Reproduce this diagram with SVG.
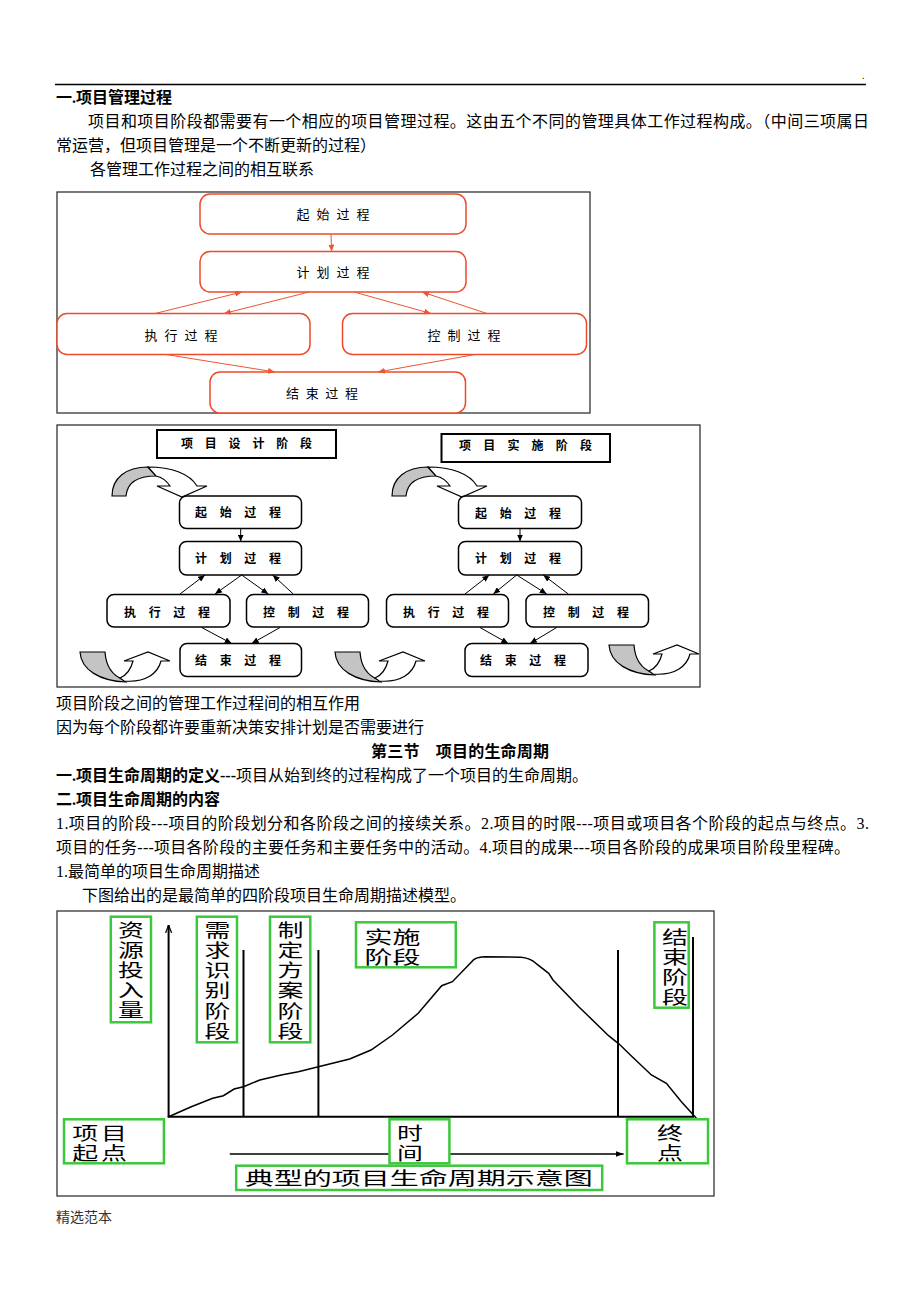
<svg xmlns="http://www.w3.org/2000/svg" width="920" height="1303" viewBox="0 0 920 1303">
<style>
.body{font-family:"Liberation Serif","Noto Sans CJK SC",serif;font-size:16px;fill:#000}
.b{font-weight:bold}
.n1{fill:#fff;stroke:#ee4b2b;stroke-width:1.5}
.t1{font-family:"Noto Sans CJK SC",sans-serif;font-size:13px;text-anchor:middle;fill:#000}
.c1{stroke:#ee5530;stroke-width:1;fill:none;marker-end:url(#ar)}
.n2{fill:#fff;stroke:#000;stroke-width:1.5}
.t2{font-family:"Noto Sans CJK SC",sans-serif;font-size:12px;font-weight:bold;text-anchor:middle;fill:#000}
.c2{stroke:#000;stroke-width:1;fill:none;marker-end:url(#ab)}
.gray{fill:#c4c4c4;stroke:#000;stroke-width:1.2}
.wh{fill:#fff;stroke:#000;stroke-width:1.2}
.g{fill:#fff;stroke:#3cc83c;stroke-width:2.5}
.gt{font-family:"Noto Sans CJK SC",sans-serif;font-size:18px;font-weight:normal;fill:#000}
.gc{text-anchor:middle}
.ln{stroke:#000;stroke-width:2;fill:none}
.frame{fill:none;stroke:#333;stroke-width:1.3}
</style>
<defs>
<marker id="ar" markerUnits="userSpaceOnUse" markerWidth="7" markerHeight="6" refX="7" refY="3" orient="auto"><path d="M0,0 L7,3 L0,6 Z" fill="#ee5530"/></marker>
<marker id="ab" markerUnits="userSpaceOnUse" markerWidth="7" markerHeight="6" refX="7" refY="3" orient="auto"><path d="M0,0 L7,3 L0,6 Z" fill="#000"/></marker>
<marker id="ax" markerUnits="userSpaceOnUse" markerWidth="8" markerHeight="8" refX="8" refY="4" orient="auto"><path d="M0,1 L8,4 L0,7" fill="none" stroke="#000" stroke-width="1.2"/></marker>
<marker id="at" markerUnits="userSpaceOnUse" markerWidth="8" markerHeight="6" refX="8" refY="3" orient="auto"><path d="M0,0 L8,3 L0,6 Z" fill="#000"/></marker>
</defs>
<rect width="920" height="1303" fill="#fff"/>

<!-- header text -->
<g id="text-top">
<text x="862" y="79" font-family="Liberation Serif" font-size="10">.</text>
<line x1="55" y1="84.5" x2="866" y2="84.5" stroke="#000" stroke-width="1.3"/>
<text class="body b" x="56" y="103">一.项目管理过程</text>
<text class="body" x="88" y="127" textLength="781" lengthAdjust="spacing">项目和项目阶段都需要有一个相应的项目管理过程。这由五个不同的管理具体工作过程构成。（中间三项属日</text>
<text class="body" x="56" y="151">常运营，但项目管理是一个不断更新的过程）</text>
<text class="body" x="90" y="175">各管理工作过程之间的相互联系</text>
</g>

<!-- diagram 1 -->
<rect x="57" y="192" width="533" height="221" class="frame"/>
<g id="d1-start"><rect class="n1" x="200" y="194" width="266" height="40" rx="10"/><text class="t1" x="333" y="219" textLength="73" lengthAdjust="spacing">起始过程</text></g>
<g id="d1-plan"><rect class="n1" x="200" y="251.5" width="266" height="40.5" rx="10"/><text class="t1" x="333" y="277" textLength="73" lengthAdjust="spacing">计划过程</text></g>
<g id="d1-exec"><rect class="n1" x="57" y="313.5" width="253" height="41" rx="10"/><text class="t1" x="181" y="340" textLength="73" lengthAdjust="spacing">执行过程</text></g>
<g id="d1-ctrl"><rect class="n1" x="342.5" y="313.5" width="244" height="41" rx="10"/><text class="t1" x="464" y="340" textLength="73" lengthAdjust="spacing">控制过程</text></g>
<g id="d1-end"><rect class="n1" x="210" y="372" width="255.5" height="41" rx="10"/><text class="t1" x="322" y="398" textLength="72" lengthAdjust="spacing">结束过程</text></g>
<g id="d1-connectors">
<line class="c1" x1="331" y1="234" x2="331.6" y2="251.5"/>
<line class="c1" x1="155" y1="313.5" x2="242" y2="292"/>
<line class="c1" x1="309" y1="292" x2="224" y2="313.5"/>
<line class="c1" x1="354" y1="292" x2="431" y2="313.5"/>
<line class="c1" x1="487" y1="313.5" x2="422" y2="292"/>
<line class="c1" x1="166" y1="354.5" x2="275" y2="372"/>
<line class="c1" x1="475" y1="354.5" x2="378" y2="372"/>
</g>

<!-- diagram 2 -->
<rect x="57" y="425" width="643" height="262" class="frame"/>
<g id="d2-stage1"><rect x="157" y="430" width="179" height="28" fill="#fff" stroke="#000" stroke-width="2"/><text class="t2" x="246.5" y="447.5" textLength="131" lengthAdjust="spacing">项目设计阶段</text></g>
<g id="d2-stage2"><rect x="441.5" y="434" width="168.5" height="28" fill="#fff" stroke="#000" stroke-width="2"/><text class="t2" x="525.5" y="450" textLength="133" lengthAdjust="spacing">项目实施阶段</text></g>

<g id="d2-decor">
<g id="loop-top-left">
<path class="gray" d="M112,496 C112,478 126,467 148,467 L156,476 C136,476 127,484 126,496 Z"/>
<path class="wh" d="M148,467 C172,467 190,474 197,486 L207,486 L182,497 L157,486 L170,486 C166,480 161,477 156,476 Z"/>
</g>
<g transform="translate(280,0)">
<path class="gray" d="M112,496 C112,478 126,467 148,467 L156,476 C136,476 127,484 126,496 Z"/>
<path class="wh" d="M148,467 C172,467 190,474 197,486 L207,486 L182,497 L157,486 L170,486 C166,480 161,477 156,476 Z"/>
</g>
<g id="loop-bottom-left">
<path class="gray" d="M80,652 L105,652 C106,667 113,676 124,680 L126,682 C100,681 81,670 80,652 Z"/>
<path class="wh" d="M124,681 C146,683 158,673 161,661 L170,661 L148,652 L124,661 L133,661 C131,669 127,675 120,678 Z"/>
</g>
<g transform="translate(255,0)">
<path class="gray" d="M80,652 L105,652 C106,667 113,676 124,680 L126,682 C100,681 81,670 80,652 Z"/>
<path class="wh" d="M124,681 C146,683 158,673 161,661 L170,661 L148,652 L124,661 L133,661 C131,669 127,675 120,678 Z"/>
</g>
<g transform="translate(529,-7)">
<path class="gray" d="M80,652 L105,652 C106,667 113,676 124,680 L126,682 C100,681 81,670 80,652 Z"/>
<path class="wh" d="M124,681 C146,683 158,673 161,661 L170,661 L148,652 L124,661 L133,661 C131,669 127,675 120,678 Z"/>
</g>
</g>

<g id="d2-l-start"><rect class="n2" x="179.5" y="496" width="122" height="32.5" rx="7"/><text class="t2" x="238" y="516.5" textLength="86" lengthAdjust="spacing">起始过程</text></g>
<g id="d2-l-plan"><rect class="n2" x="179.5" y="541.5" width="122" height="33.5" rx="7"/><text class="t2" x="238" y="562.5" textLength="86" lengthAdjust="spacing">计划过程</text></g>
<g id="d2-l-exec"><rect class="n2" x="107" y="594.5" width="123" height="32.5" rx="7"/><text class="t2" x="167" y="616.5" textLength="86" lengthAdjust="spacing">执行过程</text></g>
<g id="d2-l-ctrl"><rect class="n2" x="246.5" y="594.5" width="122" height="32.5" rx="7"/><text class="t2" x="306" y="616.5" textLength="86" lengthAdjust="spacing">控制过程</text></g>
<g id="d2-l-end"><rect class="n2" x="180" y="643.5" width="121.5" height="33" rx="7"/><text class="t2" x="238" y="664.5" textLength="86" lengthAdjust="spacing">结束过程</text></g>

<g id="d2-r-start"><rect class="n2" x="458.5" y="496" width="123" height="32.5" rx="7"/><text class="t2" x="518" y="517.5" textLength="86" lengthAdjust="spacing">起始过程</text></g>
<g id="d2-r-plan"><rect class="n2" x="458.5" y="541.5" width="123" height="33.5" rx="7"/><text class="t2" x="518" y="562.5" textLength="86" lengthAdjust="spacing">计划过程</text></g>
<g id="d2-r-exec"><rect class="n2" x="386.5" y="594.5" width="122" height="32.5" rx="7"/><text class="t2" x="446" y="616.5" textLength="86" lengthAdjust="spacing">执行过程</text></g>
<g id="d2-r-ctrl"><rect class="n2" x="526" y="594.5" width="122.5" height="32.5" rx="7"/><text class="t2" x="586" y="616.5" textLength="86" lengthAdjust="spacing">控制过程</text></g>
<g id="d2-r-end"><rect class="n2" x="465" y="643.5" width="123" height="33" rx="7"/><text class="t2" x="523" y="664.5" textLength="86" lengthAdjust="spacing">结束过程</text></g>

<g id="d2-connectors">
<line class="c2" x1="240.7" y1="528.5" x2="240.7" y2="541.5"/>
<line class="c2" x1="180" y1="594" x2="205" y2="575"/>
<line class="c2" x1="241.7" y1="575" x2="215" y2="594"/>
<line class="c2" x1="241.7" y1="575" x2="268.3" y2="594"/>
<line class="c2" x1="293.3" y1="594" x2="272.7" y2="575"/>
<line class="c2" x1="201.7" y1="627.5" x2="231.7" y2="643.5"/>
<line class="c2" x1="280" y1="627.5" x2="251.7" y2="643.5"/>
<line class="c2" x1="520" y1="528.5" x2="520" y2="541.5"/>
<line class="c2" x1="465" y1="594" x2="489.3" y2="575"/>
<line class="c2" x1="516.7" y1="575" x2="493.3" y2="594"/>
<line class="c2" x1="516.7" y1="575" x2="546.7" y2="594"/>
<line class="c2" x1="568.3" y1="594" x2="543.3" y2="575"/>
<line class="c2" x1="480" y1="627.5" x2="508.3" y2="643.5"/>
<line class="c2" x1="556.7" y1="627.5" x2="530" y2="643.5"/>
</g>

<!-- middle text -->
<g id="text-mid">
<text class="body" x="56" y="709">项目阶段之间的管理工作过程间的相互作用</text>
<text class="body" x="56" y="733">因为每个阶段都许要重新决策安排计划是否需要进行</text>
<text class="body b" x="460" y="757" text-anchor="middle" textLength="178" lengthAdjust="spacing">第三节　项目的生命周期</text>
<text class="body" x="56" y="781"><tspan class="b">一.项目生命周期的定义---</tspan>项目从始到终的过程构成了一个项目的生命周期。</text>
<text class="body b" x="56" y="805">二.项目生命周期的内容</text>
<text class="body" x="56" y="829" textLength="813" lengthAdjust="spacing">1.项目的阶段---项目的阶段划分和各阶段之间的接续关系。2.项目的时限---项目或项目各个阶段的起点与终点。3.</text>
<text class="body" x="56" y="853" textLength="794" lengthAdjust="spacing">项目的任务---项目各阶段的主要任务和主要任务中的活动。4.项目的成果---项目各阶段的成果项目阶段里程碑。</text>
<text class="body" x="56" y="877">1.最简单的项目生命周期描述</text>
<text class="body" x="82" y="901">下图给出的是最简单的四阶段项目生命周期描述模型。</text>
</g>

<!-- diagram 3 -->
<rect x="57" y="911" width="657" height="285" class="frame"/>
<g id="d3-lines">
<line class="ln" x1="168.6" y1="1116.7" x2="168.6" y2="925" marker-end="url(#ax)"/>
<line class="ln" x1="167.6" y1="1116.7" x2="694" y2="1116.7"/>
<line class="ln" x1="243.5" y1="950" x2="243.5" y2="1116.7"/>
<line class="ln" x1="318.4" y1="950" x2="318.4" y2="1116.7"/>
<line class="ln" x1="618" y1="950" x2="618" y2="1116.7"/>
<line class="ln" x1="693" y1="937" x2="693" y2="1117"/>
<path fill="none" stroke="#000" stroke-width="1.5" d="M168.6,1116.7 L191.3,1106.7 L212.7,1098.3 L223.4,1095.7 L234.1,1089 L243.5,1086.7 L259.8,1080 L281.2,1075 L298.3,1071.7 L318.4,1066.7 L349.7,1059 L371,1050 L392.5,1035 L418.2,1013.3 L441.7,985.7 L452.4,981.7 L471.7,961.7 Q475,957 484.5,956.7 L520.9,957.3 Q530,958 535.9,963.3 L548.7,973.3 L553,980 L578.7,1006.7 L587.3,1015 L608.6,1035.7 L619.4,1044.3 L632.2,1056.7 L651.4,1075 L666.4,1083.3 L681.4,1101.7 L696.4,1118.3"/>
<line x1="229.8" y1="1154" x2="623.6" y2="1154" stroke="#000" stroke-width="1.3" marker-end="url(#at)"/>
</g>
<g id="d3-resource">
<rect class="g" x="110.8" y="916.7" width="40.2" height="105.6"/>
<text class="gt gc" transform="translate(131,0) scale(1.44,1)"><tspan x="0" y="937">资</tspan><tspan x="0" y="957">源</tspan><tspan x="0" y="977">投</tspan><tspan x="0" y="997">入</tspan><tspan x="0" y="1017">量</tspan></text>
</g>
<g id="d3-need">
<rect class="g" x="196.8" y="916.7" width="40.2" height="125.6"/>
<text class="gt gc" transform="translate(217.5,0) scale(1.44,1)"><tspan x="0" y="937">需</tspan><tspan x="0" y="957">求</tspan><tspan x="0" y="977">识</tspan><tspan x="0" y="997">别</tspan><tspan x="0" y="1018">阶</tspan><tspan x="0" y="1038">段</tspan></text>
</g>
<g id="d3-plan">
<rect class="g" x="270" y="916.7" width="40.3" height="125.6"/>
<text class="gt gc" transform="translate(290.5,0) scale(1.44,1)"><tspan x="0" y="937">制</tspan><tspan x="0" y="957">定</tspan><tspan x="0" y="977">方</tspan><tspan x="0" y="997">案</tspan><tspan x="0" y="1018">阶</tspan><tspan x="0" y="1038">段</tspan></text>
</g>
<g id="d3-impl">
<rect class="g" x="356" y="922.3" width="99.8" height="45"/>
<text class="gt" transform="translate(364.6,0) scale(1.55,1)"><tspan x="0" y="944">实施</tspan><tspan x="0" y="964">阶段</tspan></text>
</g>
<g id="d3-close">
<rect class="g" x="654.4" y="922.3" width="34.3" height="85.4"/>
<text class="gt gc" transform="translate(675,0) scale(1.44,1)"><tspan x="0" y="944">结</tspan><tspan x="0" y="964">束</tspan><tspan x="0" y="984">阶</tspan><tspan x="0" y="1004">段</tspan></text>
</g>
<g id="d3-startpoint">
<rect class="g" x="64" y="1119.3" width="99.9" height="44"/>
<text class="gt" transform="translate(72.3,0) scale(1.44,1)" letter-spacing="2"><tspan x="0" y="1140">项目</tspan><tspan x="0" y="1160">起点</tspan></text>
</g>
<g id="d3-time">
<rect class="g" x="389.5" y="1119.3" width="59.9" height="44"/>
<text class="gt gc" transform="translate(410,0) scale(1.44,1)"><tspan x="0" y="1140">时</tspan><tspan x="0" y="1160">间</tspan></text>
</g>
<g id="d3-endpoint">
<rect class="g" x="627" y="1119.3" width="81" height="44"/>
<text class="gt gc" transform="translate(670,0) scale(1.44,1)"><tspan x="0" y="1140">终</tspan><tspan x="0" y="1160">点</tspan></text>
</g>
<g id="d3-title">
<rect class="g" x="236.2" y="1165.7" width="366" height="24.3"/>
<text class="gt" x="244.8" y="1185" textLength="348" lengthAdjust="spacingAndGlyphs">典型的项目生命周期示意图</text>
</g>

<text x="56" y="1222" font-family="Liberation Serif,Noto Sans CJK SC,serif" font-size="14" fill="#333">精选范本</text>
</svg>
